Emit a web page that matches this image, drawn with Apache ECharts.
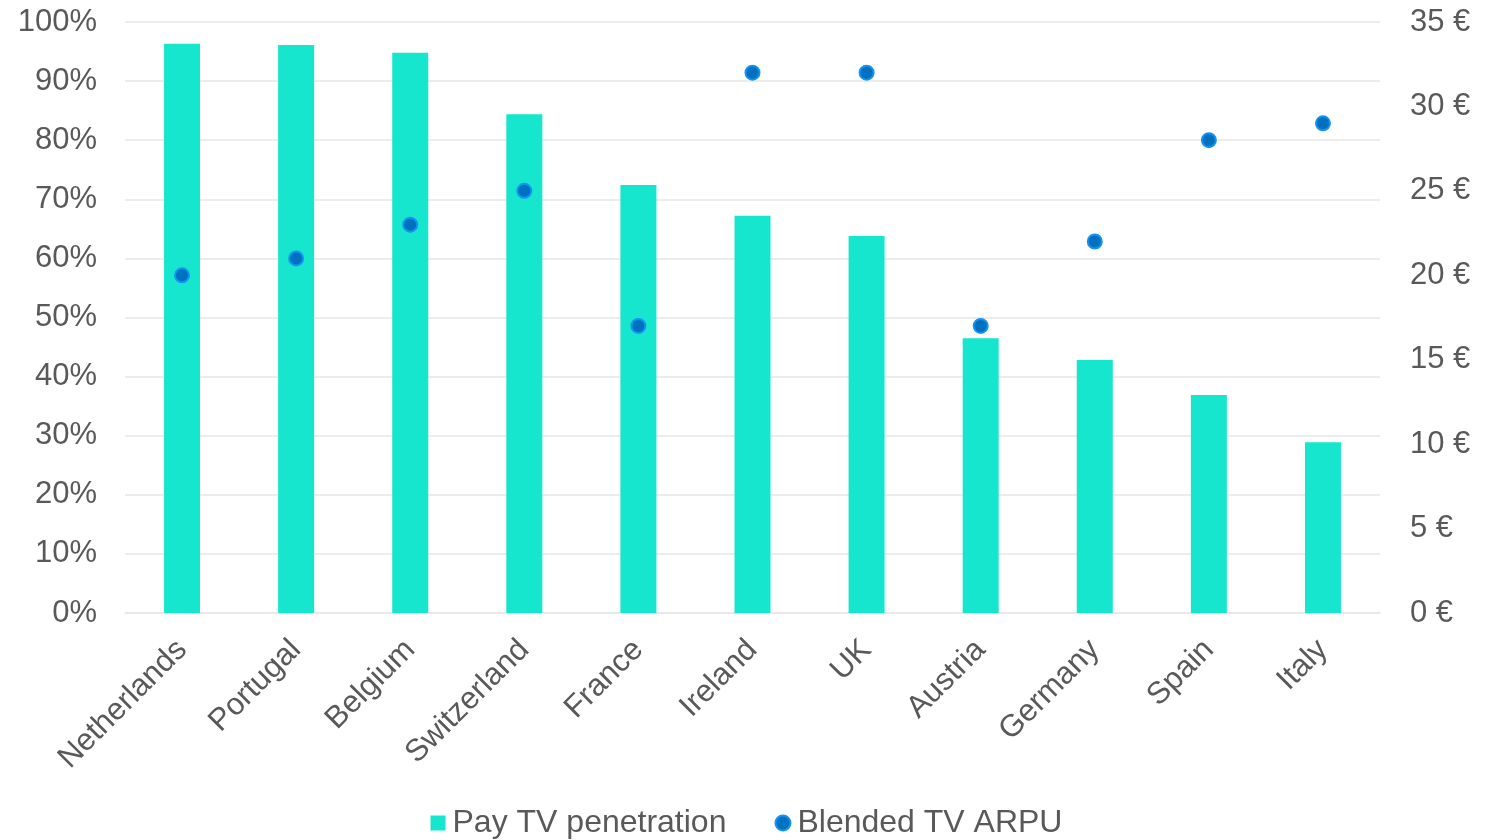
<!DOCTYPE html>
<html>
<head>
<meta charset="utf-8">
<script src="https://cdn.jsdelivr.net/npm/echarts@6/dist/echarts.min.js"></script>
<style>
  html, body { margin: 0; padding: 0; background: #ffffff; }
  #chart { width: 1493px; height: 840px; }
</style>
</head>
<body>
<div id="chart"></div>
<script>
// Countries shown on the category axis
const countries = ['Netherlands', 'Portugal', 'Belgium', 'Switzerland', 'France', 'Ireland', 'UK', 'Austria', 'Germany', 'Spain', 'Italy'];
// Share of households with pay TV (%)
const payTvPenetration = [96.3, 96.1, 94.8, 84.4, 72.4, 67.2, 63.8, 46.5, 42.8, 36.9, 28.9];
// Blended monthly TV ARPU (EUR)
const blendedArpu = [20, 21, 23, 25, 17, 32, 32, 17, 22, 28, 29];

const textColor = '#595959';
const fontFamily = 'Liberation Sans, Arial, sans-serif';

const chart = echarts.init(document.getElementById('chart'));
chart.setOption({
  animation: false,
  grid: { left: 125, right: 113, top: 22, bottom: 227, containLabel: false },
  legend: {
    bottom: -4,
    left: 'center',
    itemGap: 48,
    itemWidth: 15,
    itemHeight: 15,
    textStyle: { color: textColor, fontSize: 32, fontFamily: fontFamily, padding: [0, 0, 0, 2] },
    data: [
      { name: 'Pay TV penetration', icon: 'rect' },
      { name: 'Blended TV ARPU', icon: 'circle' }
    ]
  },
  xAxis: {
    type: 'category',
    data: countries,
    axisTick: { show: false },
    axisLine: { lineStyle: { color: '#e6e6e6', width: 1.5 } },
    axisLabel: { rotate: 45, margin: 32, color: textColor, fontSize: 31, fontFamily: fontFamily, interval: 0 }
  },
  yAxis: [
    {
      type: 'value', min: 0, max: 100, interval: 10,
      axisLabel: { formatter: '{value}%', color: textColor, fontSize: 31, fontFamily: fontFamily, margin: 28, padding: [3, 0, 0, 0] },
      splitLine: { lineStyle: { color: '#e6e6e6', width: 1.5 } },
      axisLine: { show: false }, axisTick: { show: false }
    },
    {
      type: 'value', min: 0, max: 35, interval: 5,
      axisLabel: { formatter: '{value} €', color: textColor, fontSize: 31, fontFamily: fontFamily, margin: 30, padding: [3, 0, 0, 0] },
      splitLine: { show: false },
      axisLine: { show: false }, axisTick: { show: false }
    }
  ],
  series: [
    {
      name: 'Pay TV penetration',
      type: 'bar',
      yAxisIndex: 0,
      data: payTvPenetration,
      barWidth: 36,
      itemStyle: { color: '#17e6cf' }
    },
    {
      name: 'Blended TV ARPU',
      type: 'scatter',
      yAxisIndex: 1,
      data: blendedArpu,
      symbol: 'circle',
      symbolSize: 14,
      itemStyle: { color: '#0070c0', borderColor: '#1493f2', borderWidth: 2, opacity: 1 },
      z: 5
    }
  ]
});
</script>
</body>
</html>
